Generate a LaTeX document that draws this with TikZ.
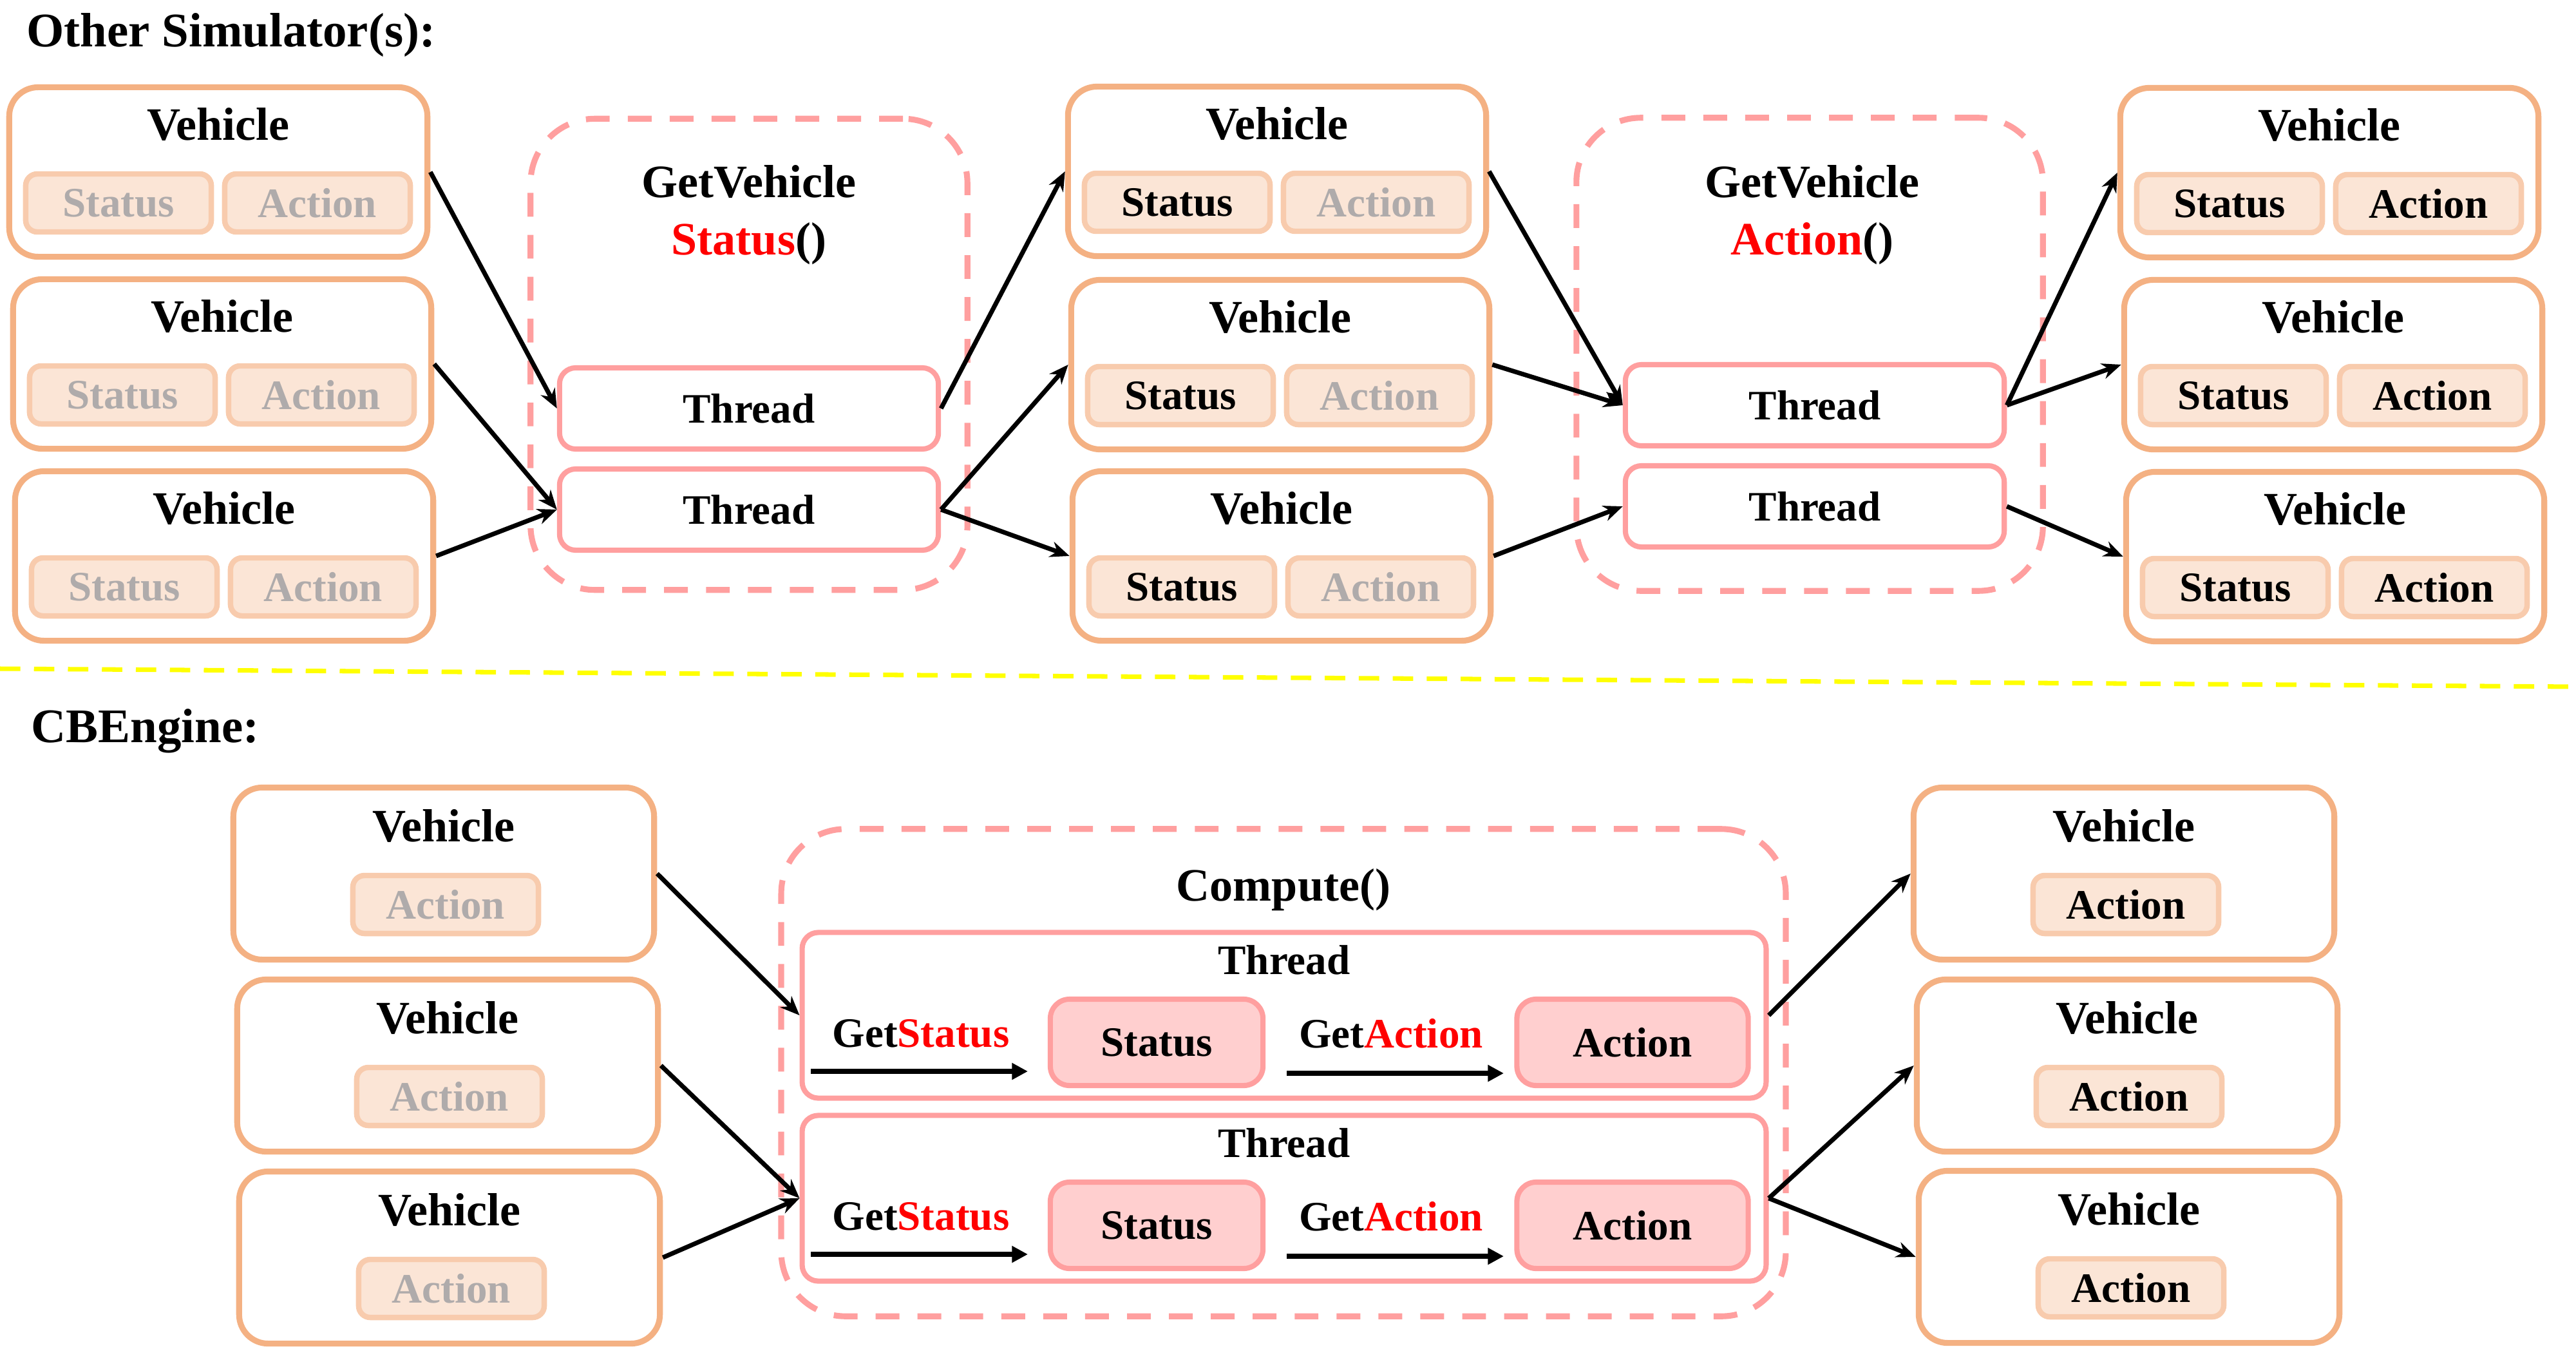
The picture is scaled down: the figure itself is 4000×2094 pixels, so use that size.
\documentclass[tikz,border=0pt]{standalone}
\usepackage{fontspec}
\setmainfont{Liberation Serif}
\usetikzlibrary{arrows.meta}
\definecolor{vehline}{HTML}{F4B183}
\definecolor{slotline}{HTML}{F8CBAD}
\definecolor{slotfill}{HTML}{FBE5D6}
\definecolor{fadegray}{HTML}{AFABAB}
\definecolor{pinkline}{HTML}{FF9F9F}
\definecolor{pinkfill}{HTML}{FFCFCF}
\definecolor{sepyellow}{HTML}{FFFF00}
\tikzset{
  big/.style={font=\fontsize{20.5}{24}\selectfont\bfseries},
  small/.style={font=\fontsize{18.5}{22}\selectfont\bfseries},
  veh/.style={draw=vehline, line width=2.6pt, rounded corners=0.45cm, minimum width=6.49cm, minimum height=2.63cm, inner sep=0pt},
  slot/.style={small, draw=slotline, fill=slotfill, line width=2.4pt, rounded corners=0.18cm, minimum width=2.88cm, minimum height=0.9cm, inner sep=0pt},
  faded/.style={text=fadegray},
  thr/.style={small, draw=pinkline, line width=2.3pt, rounded corners=0.25cm, inner sep=0pt},
  pinkslot/.style={small, draw=pinkline, fill=pinkfill, line width=2.3pt, rounded corners=0.3cm, minimum height=1.34cm, inner sep=0pt},
  grp/.style={draw=pinkline, line width=2.6pt, dash pattern=on 10.5pt off 8pt, rounded corners=1cm, inner sep=0pt},
  flow/.style={-{Stealth[length=8.5pt,width=7pt]}, line width=2pt},
  push/.style={-{Triangle[length=7pt,width=7pt]}, line width=2.2pt},
}
% vehicle with status and action slot
\newcommand{\carbox}[5]{%
  \node[veh] (#1) at (#2,#3) {};
  \node[big] (#1t) at (#2,#3-74) {Vehicle};
  \node[slot,#4] (#1s) at (#2-155,#3+48) {Status};
  \node[slot,#5] (#1a) at (#2+154,#3+48) {Action};}
% vehicle with action slot only
\newcommand{\carboxA}[4]{%
  \node[veh, minimum width=6.53cm, minimum height=2.67cm] (#1) at (#2,#3) {};
  \node[big] (#1t) at (#2,#3-74) {Vehicle};
  \node[slot,#4] (#1a) at (#2+3,#3+48) {Action};}
% thread inside Compute()
\newcommand{\threadrow}[3]{%
  \node[thr, minimum width=14.96cm, minimum height=2.57cm] (#1) at (#2,#3) {};
  \node[small] (#1t) at (#2,#3-86) {Thread};
  \node[pinkslot, minimum width=3.3cm] (#1s) at (#2-198,#3+42) {Status};
  \node[pinkslot, minimum width=3.59cm] (#1a) at (#2+541,#3+42) {Action};
  \node[small] (#1gs) at (#2-564,#3+28) {Get\textcolor{red}{Status}};
  \node[small] (#1ga) at (#2+166,#3+28) {Get\textcolor{red}{Action}};
  \coordinate (#1p) at (#2-735,#3+87);
  \coordinate (#1q) at (#2-398,#3+87);
  \coordinate (#1r) at (#2+4,#3+90);
  \coordinate (#1u) at (#2+341,#3+90);
  \draw[push] (#1p) -- (#1q);
  \draw[push] (#1r) -- (#1u);}
\begin{document}
\begin{tikzpicture}[x=0.01cm, y=-0.01cm]
	\useasboundingbox (0,0) rectangle (4000,2094);
	%titles
	\node[big, font=\fontsize{21.3}{25}\selectfont\bfseries, anchor=base west, inner sep=0pt] (osim) at (41,73) {Other Simulator(s):};
	\node[big, font=\fontsize{21.3}{25}\selectfont\bfseries, anchor=base west, inner sep=0pt] (cbe) at (48,1152) {CBEngine:};
	\draw[sepyellow, line width=2pt, dash pattern=on 9pt off 6pt] (0,1038) -- (4000,1066); %separator
	%groups
	\node[grp, minimum width=6.78cm, minimum height=7.31cm] (gs) at (1163,550) {};
	\node[grp, minimum width=7.24cm, minimum height=7.34cm] (ga) at (2810,550) {};
	\node[grp, minimum width=15.59cm, minimum height=7.56cm] (cp) at (1993,1665) {};
	\node[big, anchor=base] (gsl) at (1163,306) {GetVehicle};
	\node[big, anchor=base] (gsf) at (1163,395) {\textcolor{red}{Status}()};
	\node[big, anchor=base] (gal) at (2814,306) {GetVehicle};
	\node[big, anchor=base] (gaf) at (2814,395) {\textcolor{red}{Action}()};
	\node[big, anchor=base] (cpl) at (1993,1398) {Compute()};
	%threads
	\node[thr, minimum width=5.88cm, minimum height=1.26cm] (t1) at (1163,634) {Thread};
	\node[thr, minimum width=5.88cm, minimum height=1.26cm] (t2) at (1163,791) {Thread};
	\node[thr, minimum width=5.88cm, minimum height=1.26cm] (t3) at (2818,629) {Thread};
	\node[thr, minimum width=5.88cm, minimum height=1.26cm] (t4) at (2818,786) {Thread};
	\threadrow{t5}{1994}{1576}
	\threadrow{t6}{1994}{1860}
	%vehicles
	\foreach \n/\x/\y in {ol1/339/267, ol2/345/565, ol3/348/863}
		\carbox{\n}{\x}{\y}{faded}{faded};
	\foreach \n/\x/\y in {om1/1983/266, om2/1988/566, om3/1990/863}
		\carbox{\n}{\x}{\y}{}{faded};
	\foreach \n/\x/\y in {or1/3617/268, or2/3623/566, or3/3626/864}
		\carbox{\n}{\x}{\y}{}{};
	\foreach \n/\x/\y in {bl1/689/1356, bl2/695/1654, bl3/698/1952}
		\carboxA{\n}{\x}{\y}{faded};
	\foreach \n/\x/\y in {br1/3298/1356, br2/3303/1654, br3/3306/1951}
		\carboxA{\n}{\x}{\y}{};
	%arrows top
	\draw[flow] (ol1.east) -- (t1.west);
	\draw[flow] (ol2.east) -- (t2.west);
	\draw[flow] (ol3.east) -- (t2.west);
	\draw[flow] (t1.east) -- (om1.west);
	\draw[flow] (t2.east) -- (om2.west);
	\draw[flow] (t2.east) -- (om3.west);
	\draw[flow] (om1.east) -- (t3.west);
	\draw[flow] (om2.east) -- (t3.west);
	\draw[flow] (om3.east) -- (t4.west);
	\draw[flow] (t3.east) -- (or1.west);
	\draw[flow] (t3.east) -- (or2.west);
	\draw[flow] (t4.east) -- (or3.west);
	%arrows bottom
	\draw[flow] (bl1.east) -- (t5.west);
	\draw[flow] (bl2.east) -- (t6.west);
	\draw[flow] (bl3.east) -- (t6.west);
	\draw[flow] (t5.east) -- (br1.west);
	\draw[flow] (t6.east) -- (br2.west);
	\draw[flow] (t6.east) -- (br3.west);
\end{tikzpicture}
\end{document}
